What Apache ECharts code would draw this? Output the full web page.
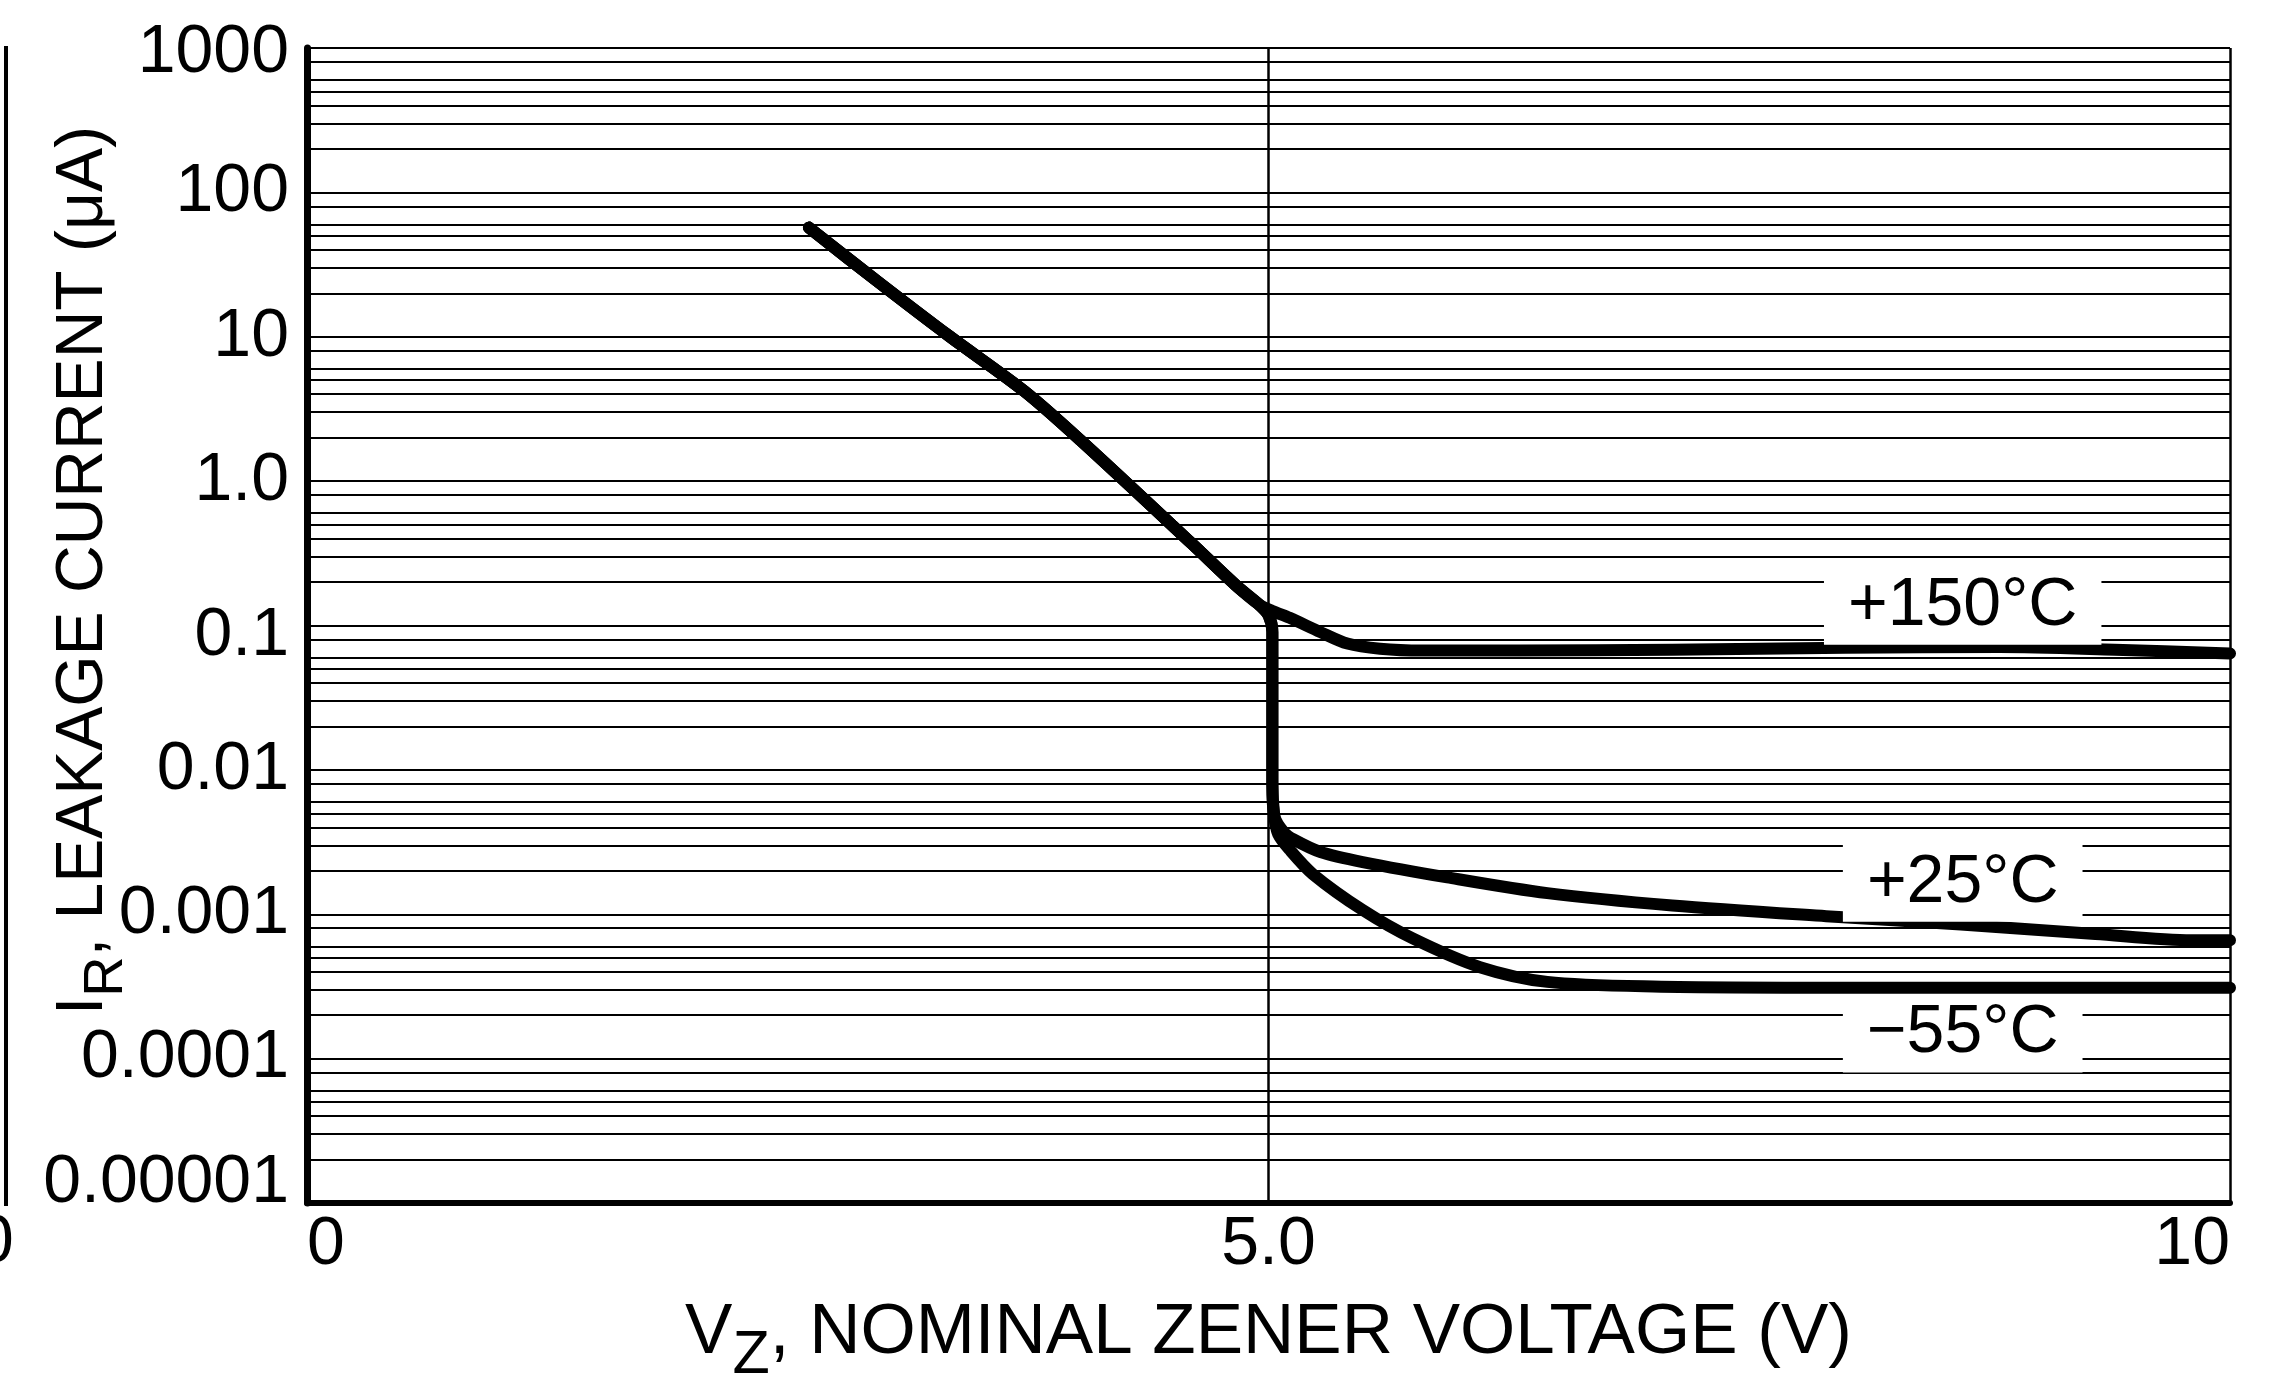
<!DOCTYPE html>
<html>
<head>
<meta charset="utf-8">
<title>Leakage current vs nominal zener voltage</title>
<script src="https://cdn.jsdelivr.net/npm/echarts@6/dist/echarts.min.js"></script>
<style>
html, body { margin: 0; padding: 0; background: #fff; }
#chart { width: 2294px; height: 1373px; }
</style>
</head>
<body>
<div id="chart"></div>
<script>
var xTicks = [0, 5, 10];
var xTickText = ['0', '5.0', '10'];
var yTickText = ['0.00001', '0.0001', '0.001', '0.01', '0.1', '1.0', '10', '100', '1000'];
var minorSteps = [2, 3, 4, 5, 6, 8];

// [V, uA]
var sharedSlope = [[2.61, 57], [2.97, 24], [3.34, 10.1], [3.73, 4.2], [4.02, 1.93], [4.6, 0.37], [4.83, 0.19], [4.95, 0.14]];
var dropPath = [[5.0, 0.118], [5.02, 0.09], [5.02, 0.05], [5.02, 0.02], [5.02, 0.008], [5.03, 0.0048]];
var branch150 = [[5.02, 0.126], [5.11, 0.113], [5.27, 0.09], [5.41, 0.075], [5.58, 0.069], [5.8, 0.067], [6.3, 0.067], [7.1, 0.068], [8.0, 0.07], [8.8, 0.071], [9.4, 0.068], [10, 0.064]];
var branch25 = [[5.08, 0.0037], [5.13, 0.0033], [5.27, 0.0027], [5.49, 0.0023], [5.93, 0.0018], [6.45, 0.0014], [7.1, 0.00115], [7.9, 0.00097], [8.6, 0.00085], [9.3, 0.00073], [9.8, 0.00066], [10, 0.00066]];
var branchM55 = [[5.05, 0.0036], [5.11, 0.0028], [5.23, 0.0019], [5.49, 0.00107], [5.75, 0.00068], [6.1, 0.00043], [6.45, 0.00034], [7.0, 0.000316], [8.0, 0.00031], [9.0, 0.00031], [10, 0.00031]];

// curve tags: text, V, uA
var tags = [['+150°C', 8.61, 0.137], ['+25°C', 8.61, 0.00165], ['\u221255°C', 8.61, 0.000149]];

var FONT = '"Liberation Sans", Arial, Helvetica, sans-serif';
var chart = echarts.init(document.getElementById('chart'));

var minorLines = [];
for (var e = -5; e < 3; e++) {
    minorSteps.forEach(function (m) {
        minorLines.push({ yAxis: m * Math.pow(10, e) });
    });
}

// the printed tick labels sit a little off their lines
var yLabelStyle = ['up', 'n', 'n', 'n', 'dn', 'n', 'n', 'n', 'dn2'];

function nameRich(size) {
    return {
        t: { fontFamily: FONT, fontSize: size, color: '#000' },
        s: { fontFamily: FONT, fontSize: size - 10, color: '#000', padding: [46, 0, 0, 0] }
    };
}

function curve(name, path) {
    return {
        name: name,
        type: 'line',
        data: path,
        smooth: 0.3,
        symbol: 'none',
        lineStyle: { color: '#000', width: 12, cap: 'round', join: 'round' },
        z: 3
    };
}

var option = {
    backgroundColor: '#fff',
    animation: false,
    grid: { left: 307, right: 64, top: 48, bottom: 170, containLabel: false, outerBoundsMode: 'none' },
    xAxis: {
        type: 'value',
        min: 0,
        max: 10,
        interval: 5,
        name: '{t|V}{s|Z}{t|, NOMINAL ZENER VOLTAGE (V)}',
        nameLocation: 'middle',
        nameGap: 77,
        nameTextStyle: { rich: nameRich(71) },
        axisLine: { lineStyle: { color: '#000', width: 6 } },
        axisTick: { show: false },
        axisLabel: {
            margin: 8,
            fontFamily: FONT,
            fontSize: 68,
            color: '#000',
            alignMinLabel: 'left',
            alignMaxLabel: 'right',
            formatter: function (v) { return xTickText[xTicks.indexOf(v)]; }
        },
        splitLine: { show: true, lineStyle: { color: '#000', width: 2.5 } }
    },
    yAxis: {
        type: 'log',
        logBase: 10,
        min: 0.00001,
        max: 1000,
        interval: 1,
        splitNumber: 8,
        name: '{t|I}{s|R}{t|, LEAKAGE CURRENT (\u03bcA)}',
        nameLocation: 'middle',
        nameRotate: 90,
        nameGap: 172,
        nameMoveOverlap: false,
        nameTextStyle: { rich: nameRich(66), padding: [0, 0, 0, 110] },
        axisLine: { show: true, lineStyle: { color: '#000', width: 7 } },
        axisTick: { show: false },
        axisLabel: {
            margin: 18,
            fontFamily: FONT,
            fontSize: 68,
            color: '#000',
            formatter: function (v) {
                var k = Math.round(Math.log10(v)) + 5;
                return '{' + yLabelStyle[k] + '|' + yTickText[k] + '}';
            },
            rich: {
                n: { fontFamily: FONT, fontSize: 68, color: '#000' },
                up: { fontFamily: FONT, fontSize: 68, color: '#000', padding: [0, 0, 40, 0] },
                dn: { fontFamily: FONT, fontSize: 68, color: '#000', padding: [22, 0, 0, 0] },
                dn2: { fontFamily: FONT, fontSize: 68, color: '#000', padding: [10, 0, 0, 0] }
            }
        },
        splitLine: { show: true, lineStyle: { color: '#000', width: 2 } }
    },
    graphic: [
        { type: 'line', shape: { x1: 6, y1: 46, x2: 6, y2: 1206 }, style: { stroke: '#000', lineWidth: 4 } },
        { type: 'text', x: -24, y: 1243, style: { text: '0', font: '68px ' + FONT, fill: '#000', verticalAlign: 'middle' } }
    ],
    series: [
        {
            name: 'grid',
            type: 'line',
            data: [],
            z: 1,
            markLine: {
                silent: true,
                precision: 12,
                symbol: ['none', 'none'],
                label: { show: false },
                lineStyle: { color: '#000', width: 2, type: 'solid' },
                data: minorLines
            }
        },
        curve('+150°C', sharedSlope.concat(branch150)),
        curve('+25°C', sharedSlope.concat(dropPath, branch25)),
        curve('-55°C', sharedSlope.concat(dropPath, branchM55)),
        {
            name: 'tags',
            type: 'scatter',
            symbolSize: 0,
            itemStyle: { color: '#fff' },
            z: 10,
            data: tags.map(function (t) { return { value: [t[1], t[2]], name: t[0] }; }),
            label: {
                show: true,
                position: 'inside',
                formatter: '{b}',
                fontFamily: FONT,
                fontSize: 68,
                lineHeight: 68,
                color: '#000',
                opacity: 1,
                textBorderWidth: 0,
                backgroundColor: '#fff',
                padding: [5, 24, 5, 24]
            }
        }
    ]
};

chart.setOption(option);
</script>
</body>
</html>
